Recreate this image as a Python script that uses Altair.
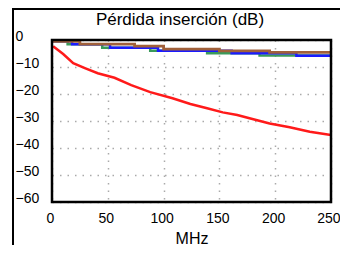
import altair as alt
import pandas as pd

# Red series (MHz, dB)
red_f = [1, 10, 19, 30, 41, 56, 71, 88, 108, 124, 139, 153, 166, 177, 195, 213, 231, 250]
red_v = [-2.3, -5.2, -8.6, -10.5, -12.3, -14.0, -16.7, -19.3, -21.6, -23.7, -25.3, -26.8, -27.8, -29.0, -30.9, -32.3, -34.0, -35.2]

# Green series (step)
green_f = [0, 14, 45, 88, 139, 186, 250]
green_v = [-0.5, -1.6, -2.9, -4.0, -4.9, -5.7, -5.7]

# Blue series (step)
blue_f = [0, 18, 52, 95, 161, 219, 250]
blue_v = [-0.5, -1.6, -2.9, -4.0, -4.9, -5.8, -5.8]

# Brown series (step)
brown_f = [0, 25, 74, 100, 150, 195, 250]
brown_v = [-0.5, -1.5, -2.3, -3.4, -4.0, -4.6, -4.6]

x_ticks = [0, 50, 100, 150, 200, 250]
y_ticks = [0, -10, -20, -30, -40, -50, -60]
title_text = ["Pérdida inserción (dB)"]

FONT = "Liberation Sans"

def df(f, v):
    return pd.DataFrame({"f": f, "v": v})

xs = alt.Scale(domain=[0, 250], nice=False, zero=False)
ys = alt.Scale(domain=[-60, 0], nice=False, zero=False)

xax = alt.Axis(values=x_ticks, title="MHz", grid=True, gridDash=[1.5, 6], gridColor="#aaaaaa",
               gridWidth=1.5, ticks=False, domain=False, labelFont=FONT, labelFontSize=14,
               labelColor="black", labelPadding=9, titleFont=FONT, titleFontSize=16,
               titleFontWeight="normal", titleColor="black", titlePadding=5, labelFlush=False,
               labelAlign=alt.condition("datum.value == 250", alt.value("right"), alt.value("center")),
               labelOffset=alt.condition("datum.value == 250", alt.value(9), alt.value(-2)))
yax = alt.Axis(values=y_ticks, title=None, grid=True, gridDash=[1.5, 6], gridColor="#aaaaaa",
               gridWidth=1.5, ticks=False, domain=False, labelFont=FONT, labelFontSize=14,
               labelColor="black", labelAlign="left", labelPadding=37, labelOffset=-4)

def line(data, color, width, interp):
    return alt.Chart(data).mark_line(color=color, strokeWidth=width, interpolate=interp, clip=True).encode(
        x=alt.X("f:Q", scale=xs, axis=xax),
        y=alt.Y("v:Q", scale=ys, axis=yax),
    )

green = line(df(green_f, green_v), "#3a9a5a", 2.5, "step-after")
blue = line(df(blue_f, blue_v), "#1a1aff", 2.5, "step-after")
brown = line(df(brown_f, brown_v), "#a0603a", 2.8, "step-after")
red = line(df(red_f, red_v), "#ff1a1a", 2.5, "linear")

one = pd.DataFrame({"a": [0]})

# plot border
border = alt.Chart(one).mark_rect(fill=None, stroke="black", strokeWidth=2.5).encode(
    x=alt.value(0), x2=alt.value(279), y=alt.value(0), y2=alt.value(162))

# chart title as text
title = alt.Chart(pd.DataFrame({"t": title_text})).mark_text(
    font=FONT, fontSize=17, color="black", align="center", baseline="middle", clip=False
).encode(text="t:N", x=alt.value(128), y=alt.value(-20))

# outer frame
frame_l = alt.Chart(one).mark_rule(color="black", strokeWidth=2, clip=False).encode(
    x=alt.value(-39), y=alt.value(-31), y2=alt.value(212))
frame_t = alt.Chart(one).mark_rule(color="black", strokeWidth=2, clip=False).encode(
    x=alt.value(-40), x2=alt.value(300), y=alt.value(-31))

chart = alt.layer(green, blue, brown, red, border, title, frame_l, frame_t).properties(
    width=279, height=162,
    autosize=alt.AutoSizeParams(type="none"),
    padding={"left": 44, "top": 32, "right": 9, "bottom": 43},
).configure_view(stroke=None).configure(background="white")

chart.save("out.html", embed_options={"renderer": "svg", "actions": False})
